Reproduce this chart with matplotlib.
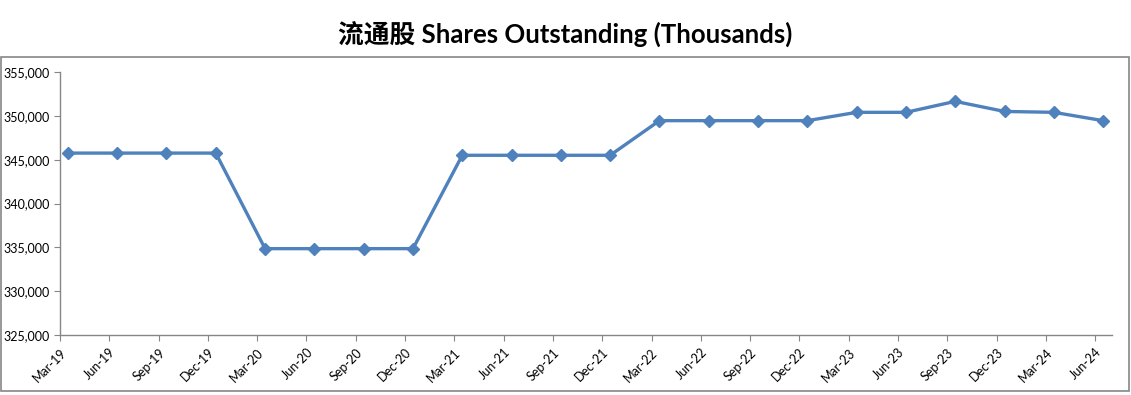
import matplotlib
matplotlib.use('Agg')
import matplotlib.pyplot as plt
from matplotlib.patches import Rectangle
from matplotlib.ticker import FuncFormatter

quarters = ['Mar-19', 'Jun-19', 'Sep-19', 'Dec-19',
            'Mar-20', 'Jun-20', 'Sep-20', 'Dec-20',
            'Mar-21', 'Jun-21', 'Sep-21', 'Dec-21',
            'Mar-22', 'Jun-22', 'Sep-22', 'Dec-22',
            'Mar-23', 'Jun-23', 'Sep-23', 'Dec-23',
            'Mar-24', 'Jun-24']
shares = [345750, 345750, 345750, 345750,
          334850, 334850, 334850, 334850,
          345500, 345500, 345500, 345500,
          349450, 349450, 349450, 349450,
          350400, 350400, 351650, 350500,
          350400, 349450]

plt.rcParams['font.family'] = ['Lato', 'Noto Sans CJK SC', 'DejaVu Sans']

fig = plt.figure(figsize=(11.31, 3.95), dpi=100)
ax = fig.add_axes([60/1131, 60/395, 1052/1131, 263/395])

# points sit a little right of their tick (date axis look)
pos = [i + 0.16 for i in range(len(quarters))]
ax.plot(pos, shares, '-', color='#4F81BD', linewidth=2.4,
        marker='D', markersize=6, markeredgecolor='#4F81BD')

ax.set_xlim(0, 21.34)
ax.set_ylim(325000, 355000)
ax.set_yticks(range(325000, 355001, 5000))
ax.yaxis.set_major_formatter(FuncFormatter(lambda v, p: '{:,.0f}'.format(v)))
ax.set_xticks(range(len(quarters)))
ax.set_xticklabels(quarters, rotation=45, ha='right', rotation_mode='anchor')

for s in ['top', 'right']:
    ax.spines[s].set_visible(False)
for s in ['left', 'bottom']:
    ax.spines[s].set_color('#868686')
    ax.spines[s].set_linewidth(1.0)
ax.tick_params(axis='both', colors='#868686', labelcolor='black', labelsize=9,
               length=4, direction='out')
ax.tick_params(axis='x', pad=4)

fig.text(0.5, 1 - 35/395, '流通股 Shares Outstanding (Thousands)',
         ha='center', va='center', fontsize=18.5, fontweight='bold')

fig.patches.append(Rectangle((0.5/1131, 4/395), 1128/1131, 334/395,
                             transform=fig.transFigure, fill=False,
                             edgecolor='#868686', linewidth=1.2))

fig.savefig('out.png', dpi=100)
